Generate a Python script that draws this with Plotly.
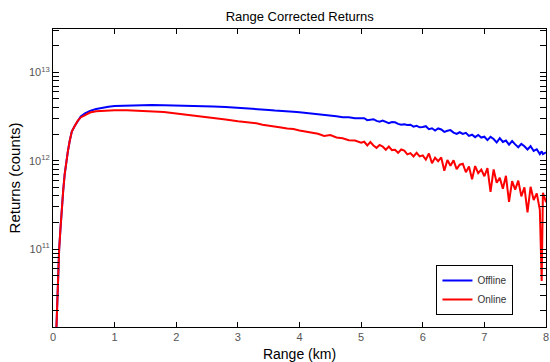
import plotly.graph_objects as go

# Range bins (km) shared by both channels
range_km = [
    0.055, 0.07, 0.085, 0.10, 0.12, 0.14, 0.165, 0.19, 0.215, 0.24, 0.27, 0.305,
    0.35, 0.40, 0.45, 0.52, 0.60, 0.70, 0.80, 0.90, 1.00,
    1.2, 1.4, 1.6, 1.8, 2.0, 2.2, 2.4, 2.6, 2.8, 3.0,
    3.1, 3.2, 3.3, 3.4, 3.5, 3.6, 3.7, 3.8, 3.9, 4.0,
    4.1, 4.2, 4.3, 4.4, 4.5, 4.6, 4.7, 4.8, 4.9, 5.0,
    5.05, 5.10, 5.15, 5.20, 5.25, 5.30, 5.35, 5.40, 5.45, 5.50,
    5.55, 5.60, 5.65, 5.70, 5.75, 5.80, 5.85, 5.90, 5.95, 6.00,
    6.05, 6.10, 6.15, 6.20, 6.25, 6.30, 6.35, 6.40, 6.45, 6.50,
    6.55, 6.60, 6.65, 6.70, 6.75, 6.80, 6.85, 6.90, 6.95, 7.00,
    7.05, 7.10, 7.15, 7.20, 7.25, 7.30, 7.35, 7.40, 7.45, 7.50,
    7.55, 7.60, 7.65, 7.70, 7.75, 7.80, 7.85, 7.90, 7.93, 7.95, 8.00,
]

# Offline channel, range-corrected counts
offline_counts = [
    1.26e10, 2.63e10, 5.25e10, 1.00e11, 1.66e11, 2.82e11, 4.57e11, 7.08e11, 1.00e12, 1.26e12, 1.66e12, 2.14e12,
    2.45e12, 2.82e12, 3.16e12, 3.43e12, 3.67e12, 3.85e12, 3.98e12, 4.07e12, 4.15e12,
    4.21e12, 4.25e12, 4.27e12, 4.24e12, 4.22e12, 4.19e12, 4.15e12, 4.11e12, 4.06e12, 3.98e12,
    3.96e12, 3.87e12, 3.89e12, 3.80e12, 3.76e12, 3.70e12, 3.68e12, 3.61e12, 3.58e12, 3.53e12,
    3.48e12, 3.44e12, 3.36e12, 3.31e12, 3.24e12, 3.19e12, 3.11e12, 3.10e12, 3.02e12, 3.04e12,
    3.03e12, 2.88e12, 2.93e12, 2.95e12, 2.82e12, 2.76e12, 2.84e12, 2.76e12, 2.66e12, 2.74e12,
    2.72e12, 2.61e12, 2.55e12, 2.59e12, 2.54e12, 2.56e12, 2.43e12, 2.48e12, 2.39e12, 2.41e12,
    2.46e12, 2.28e12, 2.33e12, 2.20e12, 2.32e12, 2.26e12, 2.12e12, 2.18e12, 2.22e12, 2.08e12,
    2.01e12, 2.10e12, 2.01e12, 2.07e12, 1.91e12, 1.97e12, 1.85e12, 1.96e12, 1.83e12, 1.87e12,
    1.71e12, 1.86e12, 1.76e12, 1.61e12, 1.80e12, 1.63e12, 1.69e12, 1.52e12, 1.67e12, 1.53e12,
    1.42e12, 1.55e12, 1.46e12, 1.34e12, 1.46e12, 1.29e12, 1.35e12, 1.19e12, 1.28e12, 1.19e12, 1.24e12,
]

# Online channel, range-corrected counts
online_counts = [
    1.26e10, 2.63e10, 5.25e10, 1.00e11, 1.66e11, 2.82e11, 4.57e11, 7.08e11, 1.00e12, 1.26e12, 1.66e12, 2.14e12,
    2.45e12, 2.82e12, 3.09e12, 3.31e12, 3.51e12, 3.63e12, 3.67e12, 3.72e12, 3.73e12,
    3.72e12, 3.67e12, 3.61e12, 3.55e12, 3.43e12, 3.31e12, 3.16e12, 3.05e12, 2.92e12, 2.79e12,
    2.75e12, 2.67e12, 2.66e12, 2.56e12, 2.51e12, 2.45e12, 2.38e12, 2.31e12, 2.28e12, 2.20e12,
    2.14e12, 2.07e12, 2.02e12, 1.91e12, 1.95e12, 1.83e12, 1.80e12, 1.71e12, 1.69e12, 1.60e12,
    1.64e12, 1.49e12, 1.63e12, 1.49e12, 1.40e12, 1.51e12, 1.45e12, 1.33e12, 1.45e12, 1.32e12,
    1.33e12, 1.23e12, 1.34e12, 1.30e12, 1.18e12, 1.22e12, 1.12e12, 1.23e12, 1.12e12, 1.15e12,
    1.03e12, 1.21e12, 9.40e11, 1.08e12, 9.89e11, 1.09e12, 7.71e11, 1.02e12, 8.79e11, 1.01e12,
    8.04e11, 9.02e11, 9.23e11, 7.41e11, 8.61e11, 6.17e11, 8.71e11, 7.24e11, 7.94e11, 6.68e11,
    8.24e11, 4.45e11, 7.98e11, 5.64e11, 6.41e11, 4.82e11, 6.75e11, 3.42e11, 5.89e11, 4.71e11,
    5.96e11, 3.96e11, 5.01e11, 2.60e11, 5.08e11, 3.60e11, 4.28e11, 2.79e11, 4.37e10, 4.34e11, 3.40e11,
]

x_ticks = [0, 1, 2, 3, 4, 5, 6, 7, 8]

# Log ticks: labelled decades plus unlabelled 2..9 steps inside each decade
y_decades = [10, 11, 12, 13]
y_tick_vals = []
y_tick_text = []
for e in y_decades:
    for m in range(1, 10):
        y_tick_vals.append(m * 10.0 ** e)
        y_tick_text.append(f"10<sup>{e}</sup>" if m == 1 and e > 10 else "")

FONT = "Liberation Sans, Arial, sans-serif"

fig = go.Figure()
fig.add_trace(go.Scatter(
    x=range_km, y=offline_counts, mode="lines", name="Offline",
    line=dict(color="#0000FF", width=2),
))
fig.add_trace(go.Scatter(
    x=range_km, y=online_counts, mode="lines", name="Online",
    line=dict(color="#FF0000", width=2),
))

fig.update_layout(
    width=550, height=362,
    margin=dict(l=53, r=1, t=29, b=35),
    paper_bgcolor="white", plot_bgcolor="white",
    title=dict(text="Range Corrected Returns", x=0.545, xanchor="center", y=0.955, yanchor="middle",
               font=dict(family=FONT, size=13, color="black")),
    xaxis=dict(
        range=[0, 8], tickvals=x_ticks, ticktext=[str(v) for v in x_ticks],
        showline=True, linecolor="black", mirror="ticks",
        ticks="inside", ticklen=5, tickcolor="black", showgrid=False, zeroline=False,
        tickfont=dict(family=FONT, size=11, color="#555555"),
        ticklabeloverflow="allow",
        title=dict(text="Range (km)", standoff=6, font=dict(family=FONT, size=14, color="black")),
    ),
    yaxis=dict(
        type="log", range=[10.12, 13.49], tickmode="array", tickvals=y_tick_vals, ticktext=y_tick_text,
        showline=True, linecolor="black", mirror="ticks",
        ticks="inside", ticklen=6, tickwidth=1.2, tickcolor="black", showgrid=False,
        tickfont=dict(family=FONT, size=11, color="#555555"),
        title=dict(text="Returns (counts)", standoff=4, font=dict(family=FONT, size=15, color="black")),
    ),
    legend=dict(
        x=0.934, xanchor="right", y=0.04, yanchor="bottom",
        bgcolor="white", bordercolor="black", borderwidth=1,
        font=dict(family=FONT, size=10, color="#333"),
        tracegroupgap=0, itemwidth=30,
    ),
    showlegend=True,
)

fig.write_html("out.html")
